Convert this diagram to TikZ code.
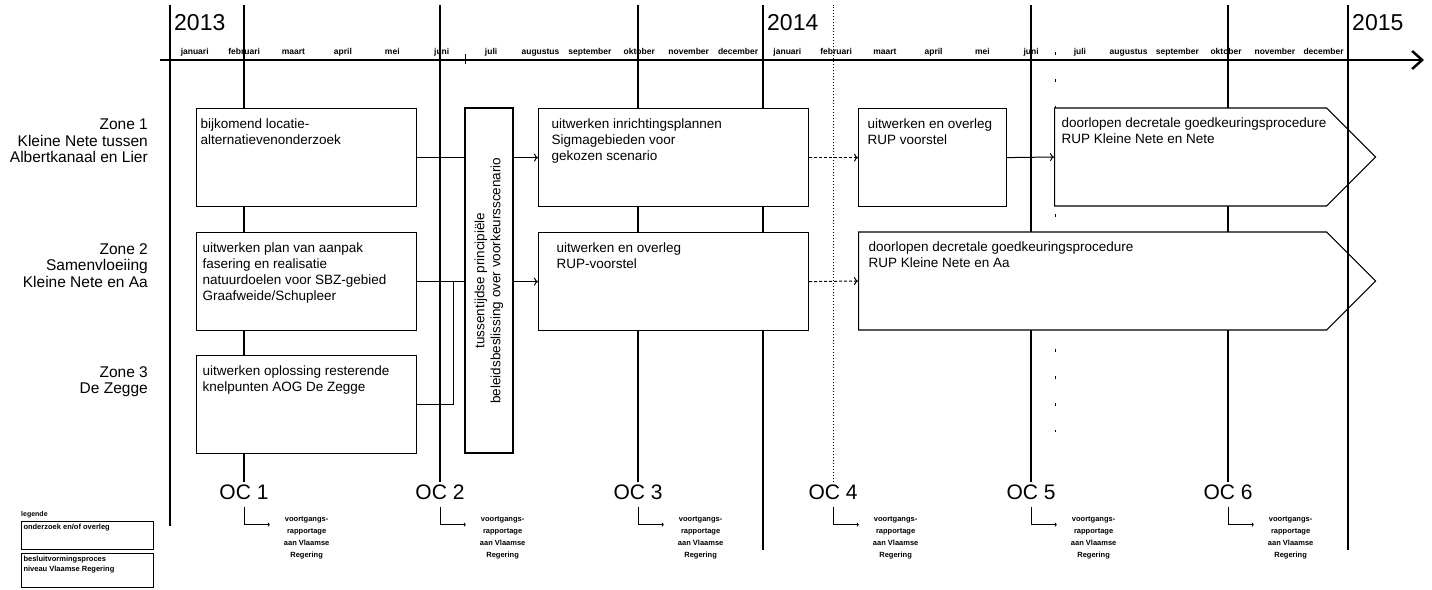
\documentclass[tikz,border=0pt]{standalone}
\usepackage{fontspec}
\setmainfont{Liberation Sans}
\usepackage{graphicx}
\usetikzlibrary{positioning,shapes.symbols,arrows.meta}

\newcommand{\fs}[2]{\fontsize{#1}{#2}\selectfont}
\newcommand{\taskbox}[3]{\parbox[c][#2][t]{#1}{#3}}

\begin{document}
\begin{tikzpicture}[x=1pt, y=-1pt, >={To[length=4pt,width=8pt]},
    task/.style={rectangle, draw, fill=white, line width=1.2pt, anchor=north west, inner xsep=5pt, inner ysep=10pt, font=\fs{13.5}{16}},
    procedure/.style={signal, signal to=east, signal from=nowhere, signal pointer angle=90, draw, fill=white, line width=1.2pt, anchor=west, inner xsep=8pt, inner ysep=10pt, font=\fs{13.5}{16}},
    decision/.style={rectangle, draw, fill=white, line width=1.2pt, minimum width=48pt, minimum height=345pt, inner sep=0pt, font=\fs{13.5}{16}},
    zone/.style={anchor=north east, align=right, inner sep=0pt, font=\fs{15.5}{16.5}},
    year/.style={anchor=west, inner sep=0pt, font=\fs{23}{23}},
    month/.style={anchor=base, inner sep=0pt, font=\fs{8.5}{9}\bfseries},
    oc/.style={inner sep=2pt, font=\fs{21}{21}},
    report/.style={align=center, inner sep=0pt, font=\fs{7.5}{12}\bfseries},
    legendbox/.style={rectangle, draw, line width=1pt, anchor=north west, inner xsep=2pt, inner ysep=3pt, font=\fs{7.5}{10}\bfseries},
    yearline/.style={line width=1.8pt},
    ocline/.style={line width=1.2pt},
    link/.style={line width=1pt},
    replink/.style={line width=0.9pt, -{To[length=2pt,width=4pt]}}]

\useasboundingbox (0,0) rectangle (1432,589);

% Years
\node[year] (y2013) at (174,23) {2013};
\node[year] (y2014) at (767,23) {2014};
\node[year] (y2015) at (1352,23) {2015};
\draw[yearline] (170,5) -- (170,526);
\draw[yearline] (763,5) -- (763,550);

% Months 2013
\node[month] (jan13) at (194.7,54) {januari};
\node[month] (feb13) at (244.1,54) {februari};
\node[month] (mrt13) at (293.5,54) {maart};
\node[month] (apr13) at (342.9,54) {april};
\node[month] (mei13) at (392.3,54) {mei};
\node[month] (jun13) at (441.7,54) {juni};
\node[month] (jul13) at (491.1,54) {juli};
\node[month] (aug13) at (540.5,54) {augustus};
\node[month] (sep13) at (589.9,54) {september};
\node[month] (okt13) at (639.3,54) {oktober};
\node[month] (nov13) at (688.7,54) {november};
\node[month] (dec13) at (738.1,54) {december};

% Months 2014
\node[month] (jan14) at (787.4,54) {januari};
\node[month] (feb14) at (836.1,54) {februari};
\node[month] (mrt14) at (884.9,54) {maart};
\node[month] (apr14) at (933.6,54) {april};
\node[month] (mei14) at (982.4,54) {mei};
\node[month] (jun14) at (1031.1,54) {juni};
\node[month] (jul14) at (1079.9,54) {juli};
\node[month] (aug14) at (1128.6,54) {augustus};
\node[month] (sep14) at (1177.4,54) {september};
\node[month] (okt14) at (1226.1,54) {oktober};
\node[month] (nov14) at (1274.9,54) {november};
\node[month] (dec14) at (1323.6,54) {december};

% Timeline
\draw[line width=2.5pt, -{Straight Barb[length=10pt,width=18pt]}] (160,60) -- (1424,60);
\draw[line width=1pt] (465,54) -- (465,64);
\draw[line width=1pt, dash pattern=on 3pt off 24pt] (1055,52) -- (1055,432);

% Zones
\node[zone] (zone1) at (148,119) {Zone 1\\Kleine Nete tussen\\Albertkanaal en Lier};
\node[zone] (zone2) at (148,243) {Zone 2\\Samenvloeiing\\Kleine Nete en Aa};
\node[zone] (zone3) at (148,366) {Zone 3\\De Zegge};

% OC moments
\node[oc] (oc1) at (244,492) {OC 1};
\node[oc] (oc2) at (440,492) {OC 2};
\node[oc] (oc3) at (638,492) {OC 3};
\node[oc] (oc4) at (833,492) {OC 4};
\node[oc] (oc5) at (1031,492) {OC 5};
\node[oc] (oc6) at (1228,492) {OC 6};

\draw[ocline] (oc1.north) -- (244,5);
\draw[ocline] (oc2.north) -- (440,5);
\draw[ocline] (oc3.north) -- (638,5);
\draw[line width=1pt, dash pattern=on 1.5pt off 1.5pt] (oc4.north) -- (833,5);
\draw[ocline] (oc5.north) -- (1031,5);
\draw[ocline] (oc6.north) -- (1228,5);

% Reports
\node[report, below right=15pt and 13pt of oc1] (rap1) {voortgangs-\\rapportage\\aan Vlaamse\\Regering};
\node[report, below right=15pt and 13pt of oc2] (rap2) {voortgangs-\\rapportage\\aan Vlaamse\\Regering};
\node[report, below right=15pt and 13pt of oc3] (rap3) {voortgangs-\\rapportage\\aan Vlaamse\\Regering};
\node[report, below right=15pt and 13pt of oc4] (rap4) {voortgangs-\\rapportage\\aan Vlaamse\\Regering};
\node[report, below right=15pt and 13pt of oc5] (rap5) {voortgangs-\\rapportage\\aan Vlaamse\\Regering};
\node[report, below right=15pt and 13pt of oc6] (rap6) {voortgangs-\\rapportage\\aan Vlaamse\\Regering};

\draw[replink] ([yshift=-5pt]oc1.south) |- ([xshift=-14pt,yshift=-8pt]rap1.north west);
\draw[replink] ([yshift=-5pt]oc2.south) |- ([xshift=-14pt,yshift=-8pt]rap2.north west);
\draw[replink] ([yshift=-5pt]oc3.south) |- ([xshift=-14pt,yshift=-8pt]rap3.north west);
\draw[replink] ([yshift=-5pt]oc4.south) |- ([xshift=-14pt,yshift=-8pt]rap4.north west);
\draw[replink] ([yshift=-5pt]oc5.south) |- ([xshift=-14pt,yshift=-8pt]rap5.north west);
\draw[replink] ([yshift=-5pt]oc6.south) |- ([xshift=-14pt,yshift=-8pt]rap6.north west);

% Tasks
\node[task, inner xsep=4pt] (locatie) at (196,108) {\taskbox{212pt}{78pt}{bijkomend locatie-\\alternatievenonderzoek}};
\node[task, inner xsep=6pt] (aanpak) at (196,232) {\taskbox{208pt}{78pt}{uitwerken plan van aanpak\\fasering en realisatie\\natuurdoelen voor SBZ-gebied\\Graafweide/Schupleer}};
\node[task, inner xsep=6pt] (zegge) at (196,355) {\taskbox{208pt}{78pt}{uitwerken oplossing resterende\\knelpunten AOG De Zegge}};

\node[decision] (besluit) at (489,280.5) {\rotatebox{90}{\parbox{330pt}{\centering tussentijdse principiële\\beleidsbeslissing over voorkeursscenario}}};

\node[task, inner xsep=13pt] (inrichting) at (538,108) {\taskbox{244pt}{78pt}{uitwerken inrichtingsplannen\\Sigmagebieden voor\\gekozen scenario}};
\node[task, inner xsep=18pt] (rupaa) at (538,232) {\taskbox{234pt}{78pt}{uitwerken en overleg\\RUP-voorstel}};
\node[task, inner xsep=9pt] (rupnete) at (858,108) {\taskbox{130pt}{78pt}{uitwerken en overleg\\RUP voorstel}};

\node[procedure, inner xsep=7pt] (procnete) at (1054,157) {\taskbox{258pt}{78pt}{\mbox{doorlopen decretale goedkeuringsprocedure}\\RUP Kleine Nete en Nete}};
\node[procedure, inner xsep=10pt] (procaa) at (858,281) {\taskbox{448pt}{78pt}{doorlopen decretale goedkeuringsprocedure\\RUP Kleine Nete en Aa}};

\draw[yearline] (1348,5) -- (1348,550);

% Connections
\draw[link] (locatie.east) -- (locatie.east -| besluit.west);
\draw[link] (aanpak.east) -- (aanpak.east -| besluit.west);
\coordinate (join) at (453,281);
\draw[link] (zegge.east) -| (join);
\draw[link, ->] (besluit.east |- inrichting.west) -- (inrichting.west);
\draw[link, ->] (besluit.east |- rupaa.west) -- (rupaa.west);
\draw[link, ->, densely dashed] (inrichting.east) -- (rupnete.west);
\draw[link, ->, densely dashed] (rupaa.east) -- (procaa.west);
\draw[link, ->] (rupnete.east) -- (procnete.west);

% Legend
\node[anchor=west, inner sep=0pt, font=\fs{7}{8}\bfseries] (legende) at (21,515) {legende};
\node[legendbox] (leg1) at (21,521) {\taskbox{128pt}{22pt}{onderzoek en/of overleg}};
\node[legendbox] (leg2) at (21,553) {\taskbox{128pt}{28pt}{besluitvormingsproces\\niveau Vlaamse Regering}};

\end{tikzpicture}
\end{document}
